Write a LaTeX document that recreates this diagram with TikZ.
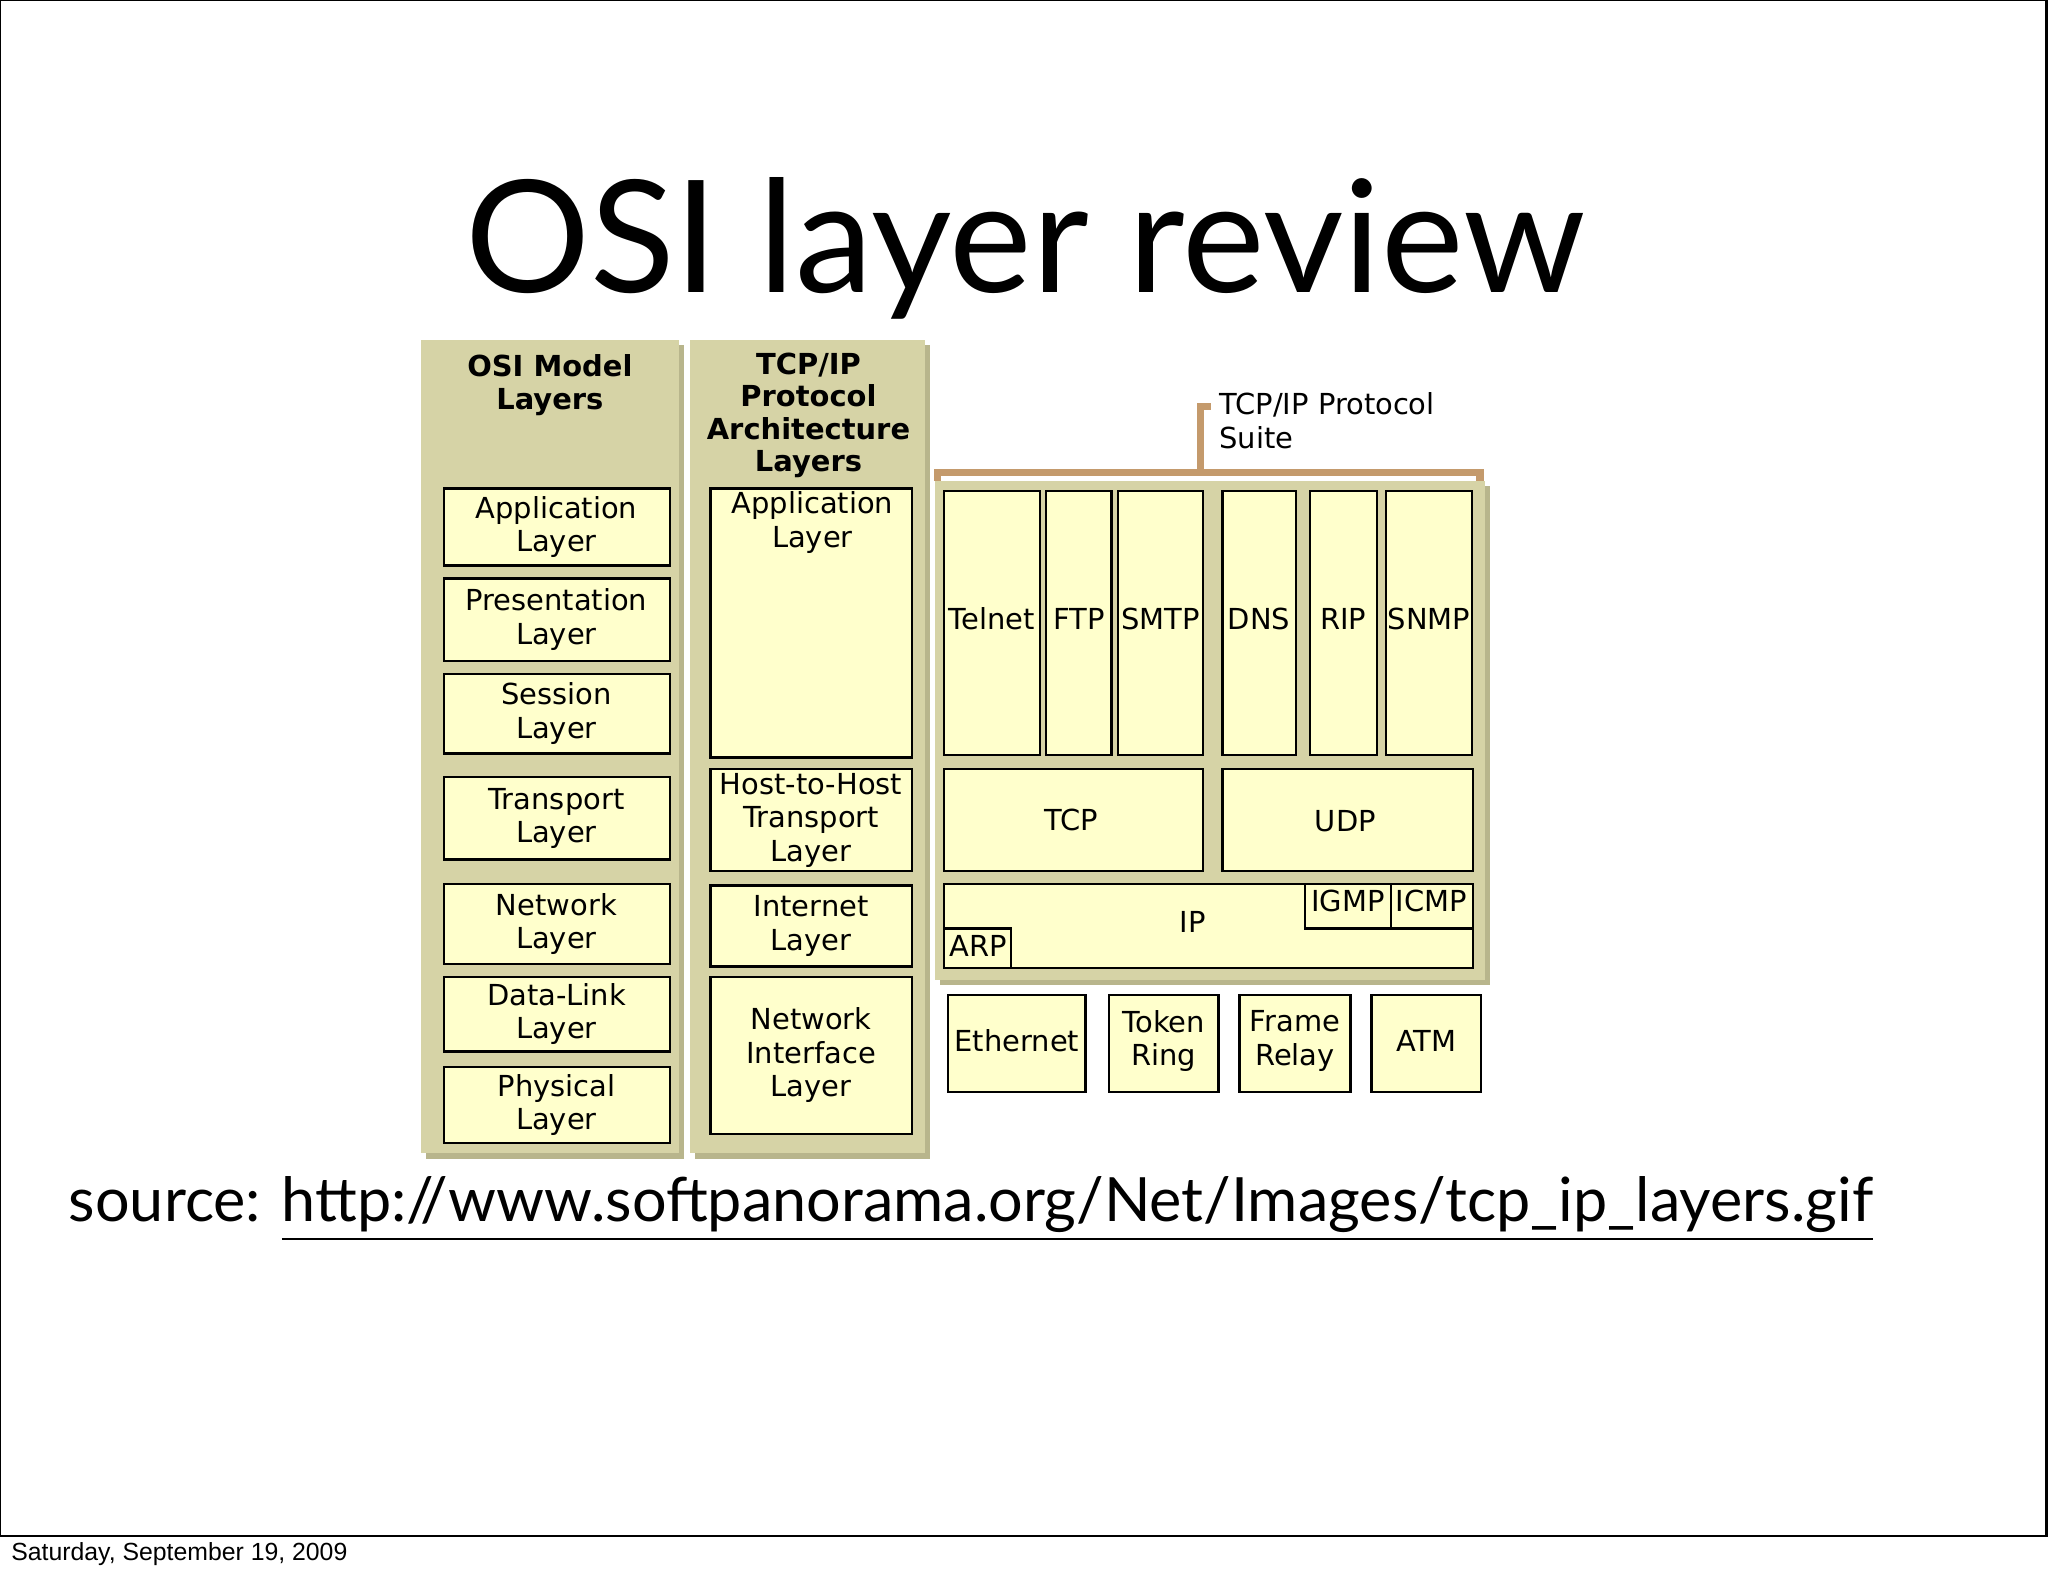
\documentclass[tikz,border=0pt]{standalone}
\usepackage{fontspec}
\setmainfont{Lato}
\newfontfamily\djfont{DejaVu Sans}
\newfontfamily\libfont{Liberation Sans}
\definecolor{khaki}{HTML}{D6D3A6}
\definecolor{khshadow}{HTML}{B8B58C}
\definecolor{boxy}{HTML}{FFFFCC}
\definecolor{brk}{HTML}{C49A6C}
\begin{document}
\begin{tikzpicture}[x=0.01cm,y=-0.01cm,
  panel/.style={fill=khaki,draw=none},
  lbox/.style={fill=boxy,draw=black,line width=0.5pt},
  dtxt/.style={font=\djfont\fontsize{6.3}{7.3}\selectfont,align=center,inner sep=0pt},
  btxt/.style={font=\djfont\bfseries\fontsize{6.3}{7.1}\selectfont,align=center,inner sep=0pt}]
\useasboundingbox (0,0) rectangle (1568,1207);
\draw[line width=0.6pt] (0,0) rectangle (1567,1176);
\node[font=\libfont\fontsize{5.4}{6.4}\selectfont,anchor=west,inner sep=0pt] (date) at (8,1190) {Saturday, September 19, 2009};
\node[font=\fontsize{34}{38}\selectfont,inner sep=0pt] (title) at (785,190) {OSI layer review};
% panels
\fill[khshadow] (326,264) rectangle (524,887);
\fill[panel] (322,260) rectangle (520,883);
\fill[khshadow] (532,264) rectangle (712,887);
\fill[panel] (528,260) rectangle (708,883);
\fill[khshadow] (720,372) rectangle (1141,754);
\fill[panel] (716,368) rectangle (1137,750);
\node[btxt] (h1) at (421,295) {OSI Model\\Layers};
\node[btxt] (h2) at (619,318) {TCP/IP\\Protocol\\Architecture\\Layers};
% OSI boxes
\foreach \n/\a/\b/\t in {o1/374/433/{Application\\Layer},o2/443/506/{Presentation\\Layer},o3/516/577/{Session\\Layer},o4/595/658/{Transport\\Layer},o5/677/738/{Network\\Layer},o6/748/805/{Data-Link\\Layer},o7/817/875/{Physical\\Layer}}{
  \draw[lbox] (340,\a) rectangle (513,\b);
  \node[dtxt] (\n) at (426,{(\a+\b)/2}) {\t};}
% TCP/IP layer boxes
\draw[lbox] (544,374) rectangle (698,580);
\node[dtxt] (t1) at (622,400) {Application\\Layer};
\foreach \n/\a/\b/\t in {t2/589/667/{Host-to-Host\\Transport\\Layer},t3/678/740/{Internet\\Layer},t4/748/868/{Network\\Interface\\Layer}}{
  \draw[lbox] (544,\a) rectangle (698,\b);
  \node[dtxt] (\n) at (621,{(\a+\b)/2}) {\t};}
% bracket
\draw[brk,line width=1.6pt] (718,368) -- (718,362) -- (1133,362) -- (1133,368);
\draw[brk,line width=1.6pt] (919,362) -- (919,311) -- (927,311);
\node[dtxt,anchor=north west,align=left] (suite) at (933,300) {TCP/IP Protocol\\Suite};
% app protocols
\foreach \n/\a/\b/\t in {p1/723/796/Telnet,p2/801/851/FTP,p3/856/921/SMTP,p4/936/992/DNS,p5/1003/1054/RIP,p6/1061/1127/SNMP}{
  \draw[lbox] (\a,376) rectangle (\b,578);
  \node[dtxt] (\n) at ({(\a+\b)/2},474) {\t};}
\draw[lbox] (723,589) rectangle (921,667); \node[dtxt] (tcp) at (820,628) {TCP};
\draw[lbox] (936,589) rectangle (1128,667); \node[dtxt] (udp) at (1030,629) {UDP};
\draw[lbox] (723,677) rectangle (1128,741); \node[dtxt] (ip) at (913,706) {IP};
\draw[lbox] (999,677) rectangle (1065,711); \node[dtxt] (igmp) at (1032,690) {IGMP};
\draw[lbox] (1065,677) rectangle (1128,711); \node[dtxt] (icmp) at (1096,690) {ICMP};
\draw[lbox] (723,711) rectangle (774,741); \node[dtxt] (arp) at (749,724) {ARP};
\foreach \n/\a/\b/\t in {n1/726/831/Ethernet,n2/849/933/{Token\\Ring},n3/949/1034/{Frame\\Relay},n4/1050/1134/ATM}{
  \draw[lbox] (\a,762) rectangle (\b,836);
  \node[dtxt] (\n) at ({(\a+\b)/2},797) {\t};}
\node[font=\fontsize{13.3}{15}\selectfont,anchor=base west,inner sep=0pt] (src) at (52,935) {source: \underline{http://www.softpanorama.org/Net/Images/tcp\_ip\_layers.gif}};
\end{tikzpicture}
\end{document}
